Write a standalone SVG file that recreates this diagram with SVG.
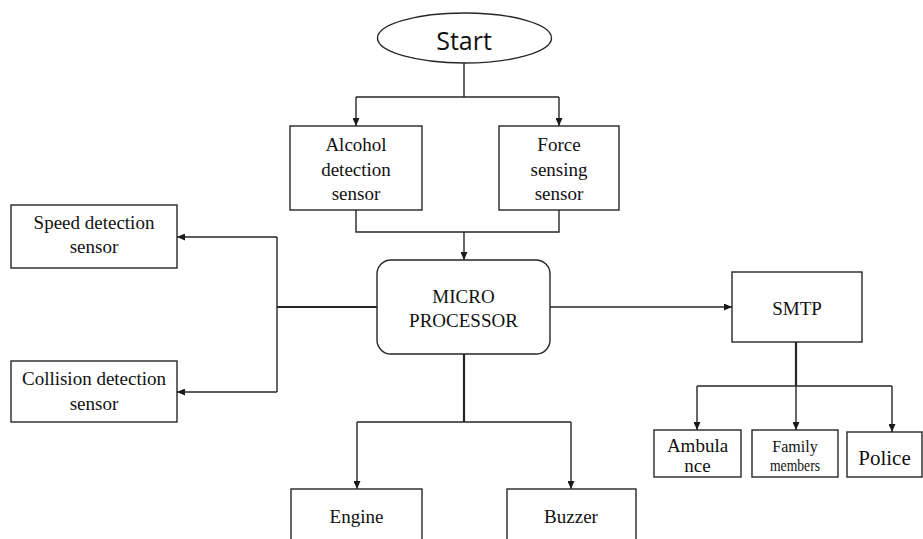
<svg xmlns="http://www.w3.org/2000/svg" width="923" height="539" viewBox="0 0 923 539">
  <style>
    .box { fill: #ffffff; stroke: #262626; stroke-width: 1.4; }
    .ln { fill: none; stroke: #262626; stroke-width: 1.4; }
    .thick { stroke-width: 2.2; }
    .arr { marker-end: url(#head); }
    .t { font-family: 'Liberation Serif', Tinos, 'Times New Roman', 'DejaVu Serif', serif; font-size: 19px; fill: #111; text-anchor: middle; }
    .start { font-family: 'Open Sans', 'Liberation Sans', sans-serif; font-size: 25px; fill: #111; text-anchor: middle; }
  </style>
  <defs>
    <marker id="head" markerUnits="userSpaceOnUse" markerWidth="8" markerHeight="7" refX="8" refY="3.5" orient="auto">
      <path d="M0,0 L8,3.5 L0,7 z" fill="#1a1a1a"/>
    </marker>
  </defs>
  <rect width="923" height="539" fill="#ffffff"/>

  <g id="connectors">
    <!-- Start splits to the two input sensors -->
    <path class="ln" d="M464,63 V97 M356,97 H559"/>
    <path class="ln arr" d="M356,97 V126"/>
    <path class="ln arr" d="M559,97 V126"/>
    <!-- sensors merge into the microprocessor -->
    <path class="ln" d="M356,210 V232 H559 V210"/>
    <path class="ln arr" d="M464,232 V260"/>
    <!-- microprocessor to speed / collision sensors -->
    <path class="ln thick" d="M377,307 H277"/>
    <path class="ln" d="M277,237 V392"/>
    <path class="ln arr" d="M277,237 H177"/>
    <path class="ln arr" d="M277,392 H177"/>
    <!-- microprocessor to SMTP -->
    <path class="ln arr" d="M550,307 H732"/>
    <!-- microprocessor to engine / buzzer -->
    <path class="ln thick" d="M464,354 V422"/>
    <path class="ln" d="M357,422 H571"/>
    <path class="ln arr" d="M357,422 V489"/>
    <path class="ln arr" d="M571,422 V489"/>
    <!-- SMTP fan-out -->
    <path class="ln thick" d="M796,342 V386"/>
    <path class="ln" d="M697,386 H892"/>
    <path class="ln arr" d="M697,386 V430"/>
    <path class="ln arr" d="M796,386 V430"/>
    <path class="ln arr" d="M892,386 V432"/>
  </g>

  <g id="start">
    <ellipse class="box" cx="464.5" cy="38" rx="87" ry="25"/>
    <text class="start" x="464" y="50">Start</text>
  </g>

  <g id="alcohol">
    <rect class="box" x="290" y="126" width="132" height="84"/>
    <text class="t" x="356" y="151">Alcohol</text>
    <text class="t" x="356" y="176">detection</text>
    <text class="t" x="356" y="200">sensor</text>
  </g>

  <g id="force">
    <rect class="box" x="499" y="126" width="120" height="84"/>
    <text class="t" x="559" y="151">Force</text>
    <text class="t" x="559" y="176">sensing</text>
    <text class="t" x="559" y="200">sensor</text>
  </g>

  <g id="speed">
    <rect class="box" x="11" y="205" width="166" height="63"/>
    <text class="t" x="94" y="229">Speed detection</text>
    <text class="t" x="94" y="253">sensor</text>
  </g>

  <g id="collision">
    <rect class="box" x="11" y="361" width="166" height="61"/>
    <text class="t" x="94" y="385">Collision detection</text>
    <text class="t" x="94" y="410">sensor</text>
  </g>

  <g id="microprocessor">
    <rect class="box" x="377" y="260" width="173" height="94" rx="14" ry="14"/>
    <text class="t" x="463.5" y="303">MICRO</text>
    <text class="t" x="463.5" y="327">PROCESSOR</text>
  </g>

  <g id="smtp">
    <rect class="box" x="732" y="272" width="130" height="70"/>
    <text class="t" x="797" y="315">SMTP</text>
  </g>

  <g id="ambulance">
    <rect class="box" x="654" y="430" width="87" height="47"/>
    <text class="t" x="697.5" y="452">Ambula</text>
    <text class="t" x="697.5" y="472">nce</text>
  </g>

  <g id="family">
    <rect class="box" x="752" y="430" width="86" height="47"/>
    <text class="t" x="795" y="452" style="font-size:16px">Family</text>
    <text class="t" x="795" y="471" style="font-size:16px" textLength="50" lengthAdjust="spacingAndGlyphs">members</text>
  </g>

  <g id="police">
    <rect class="box" x="847" y="432" width="75" height="45"/>
    <text class="t" x="884.5" y="465" style="font-size:21px">Police</text>
  </g>

  <g id="engine">
    <rect class="box" x="291" y="489" width="131" height="60"/>
    <text class="t" x="356.5" y="523">Engine</text>
  </g>

  <g id="buzzer">
    <rect class="box" x="507" y="489" width="129" height="60"/>
    <text class="t" x="571" y="523">Buzzer</text>
  </g>
</svg>
